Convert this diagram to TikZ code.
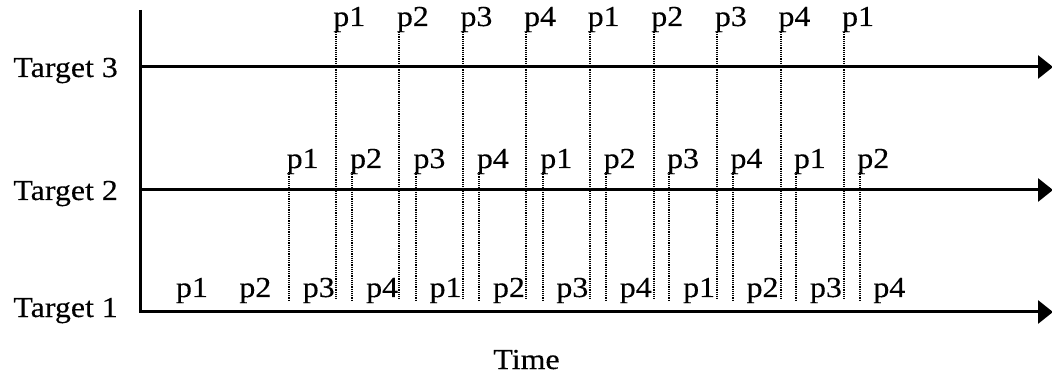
\documentclass[tikz,border=0pt]{standalone}
\usepackage{fontspec}
\setmainfont{Liberation Serif}[FakeStretch=1.1,FakeBold=0.3]
\usetikzlibrary{arrows.meta}
\begin{document}
\begin{tikzpicture}[x=1pt,y=-1pt,
  axisline/.style={line width=3pt},
  arrowline/.style={axisline,-{Triangle[length=15pt,width=23pt]}},
  tickline/.style={line width=2pt, dash pattern=on 1.2pt off 1pt},
  lbl/.style={inner sep=0pt, font=\fontsize{29}{34}\selectfont},
]
\useasboundingbox (0,0) rectangle (1052,379);

% axis coordinates
\coordinate (axtop) at (140.5,10);
\coordinate (o3) at (140.5,67);
\coordinate (o2) at (140.5,190);
\coordinate (o1) at (140.5,312);
\coordinate (e3) at (1053,67);
\coordinate (e2) at (1053,190);
\coordinate (e1) at (1053,312);

% dotted lines for Target 3
\foreach \k in {0,...,8}{
  \pgfmathsetmacro\xx{335.6+63.6*\k}
  \pgfmathtruncatemacro\nn{mod(\k,4)+1}
  \coordinate (tt\k) at (\xx,32);
  \coordinate (tb\k) at (\xx,300);
  \draw[tickline] (tt\k) -- (tb\k);
  \node[lbl,anchor=base west] (lt\k) at (\xx-2.5,26) {p\nn};
}
% dotted lines for Target 2
\foreach \k in {0,...,9}{
  \pgfmathsetmacro\xx{289+63.4*\k}
  \pgfmathtruncatemacro\nn{mod(\k,4)+1}
  \coordinate (st\k) at (\xx,172);
  \coordinate (sb\k) at (\xx,300);
  \draw[tickline] (st\k) -- (sb\k);
  \node[lbl,anchor=base west] (ls\k) at (\xx-2.5,168) {p\nn};
}
% labels for Target 1
\foreach \k in {0,...,11}{
  \pgfmathsetmacro\xx{175.8+63.4*\k}
  \pgfmathtruncatemacro\nn{mod(\k,4)+1}
  \node[lbl,anchor=base west] (lo\k) at (\xx,297) {p\nn};
}

% axes
\draw[arrowline] (axtop) -- (o1) -- (e1);
\draw[arrowline] (o2) -- (e2);
\draw[arrowline] (o3) -- (e3);

% target names
\node[lbl,anchor=base east] (n3) at (118,77) {Target 3};
\node[lbl,anchor=base east] (n2) at (118,200) {Target 2};
\node[lbl,anchor=base east] (n1) at (118,317) {Target 1};
\node[lbl,anchor=base] (time) at (526.5,369) {Time};
\end{tikzpicture}
\end{document}
